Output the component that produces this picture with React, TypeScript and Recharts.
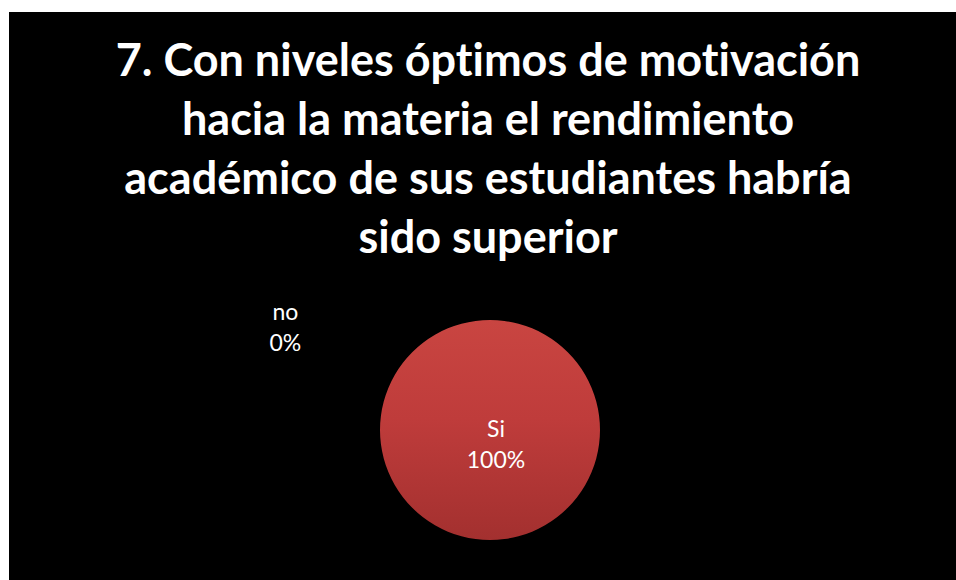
import { PieChart, Pie, Cell } from 'recharts';

const titleLines = [
  '7. Con niveles óptimos de motivación',
  'hacia la materia el rendimiento',
  'académico de sus estudiantes habría',
  'sido superior',
];

const categories = ['Si', 'no'];
const values = [100, 0];
const sliceFills = ['url(#rojoSi)', '#4F81BD'];

const data = categories.map((name, i) => ({ name, value: values[i] }));

type LabelProps = {
  cx: number;
  cy: number;
  outerRadius: number;
  percent: number;
  name: string;
};

// Excel pone "Si" en el centro y la etiqueta del 0% arriba a la izquierda
function renderLabel({ cx, cy, outerRadius, percent, name }: LabelProps) {
  const pct = `${Math.round(percent * 100)}%`;
  const full = percent > 0.99;
  const x = full ? cx + 6 : cx - outerRadius * 1.86;
  const y = full ? cy + 7 : cy - outerRadius;
  return (
    <text
      x={x}
      y={y}
      fill="#ffffff"
      textAnchor="middle"
      fontFamily="Lato, sans-serif"
      fontSize={23}
    >
      <tspan x={x} dy={0}>{name}</tspan>
      <tspan x={x} dy={31}>{pct}</tspan>
    </text>
  );
}

export default function App() {
  return (
    <div style={{ position: 'absolute', left: 0, top: 0, width: 956, height: 580, background: '#ffffff', overflow: 'hidden' }}>
      <div style={{ position: 'absolute', left: 9, top: 12, width: 947, height: 568, background: '#000000' }} />
      <div
        style={{
          position: 'absolute',
          left: 9,
          top: 30,
          width: 947,
          textAlign: 'center',
          color: '#ffffff',
          fontFamily: 'Lato, sans-serif',
          fontWeight: 700,
          fontSize: 45,
          lineHeight: '59px',
          fontVariantLigatures: 'none',
          whiteSpace: 'nowrap',
        }}
      >
        {titleLines.map((line) => (
          <div key={line} style={{ marginLeft: 11 }}>{line}</div>
        ))}
      </div>
      <div style={{ position: 'absolute', left: 0, top: 0 }}>
        <PieChart width={956} height={580} margin={{ top: 0, right: 0, bottom: 0, left: 0 }}>
          <defs>
            <linearGradient id="rojoSi" x1="0" y1="0" x2="0" y2="1">
              <stop offset="0%" stopColor="#C94541" />
              <stop offset="45%" stopColor="#BF3C3B" />
              <stop offset="100%" stopColor="#A3302F" />
            </linearGradient>
          </defs>
          <Pie
            data={data}
            dataKey="value"
            nameKey="name"
            cx={490}
            cy={430}
            outerRadius={110}
            startAngle={90}
            endAngle={-270}
            stroke="none"
            label={renderLabel}
            labelLine={false}
            isAnimationActive={false}
          >
            {data.map((d, i) => (
              <Cell key={d.name} fill={sliceFills[i]} />
            ))}
          </Pie>
        </PieChart>
      </div>
    </div>
  );
}
